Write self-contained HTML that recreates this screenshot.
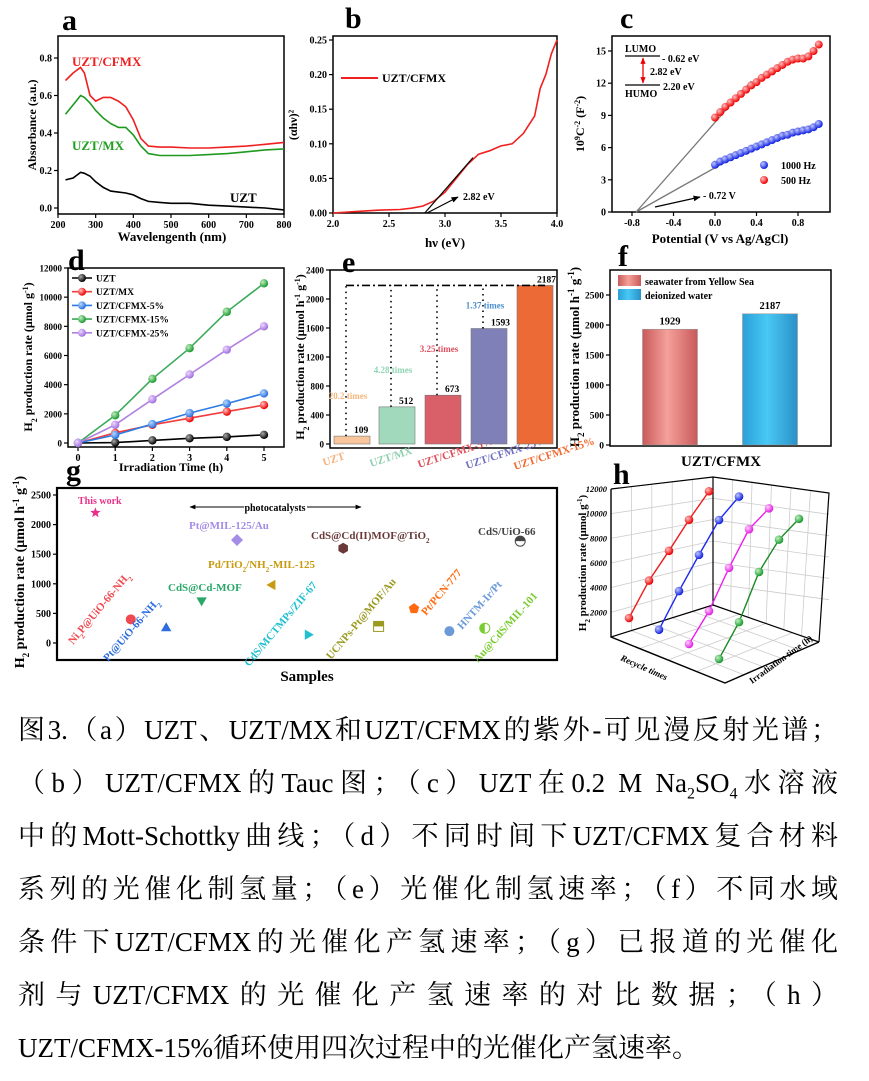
<!DOCTYPE html>
<html><head><meta charset="utf-8">
<style>
html,body{margin:0;padding:0;background:#fff;}
body{width:869px;height:1081px;position:relative;overflow:hidden;}
#fig{position:absolute;left:0;top:0;}
.cap{position:absolute;left:18px;width:820px;font-family:"Liberation Serif","Noto Serif CJK SC",serif;font-size:27px;line-height:30px;color:#000;text-align:justify;text-align-last:justify;white-space:nowrap;}
.cap.last{text-align-last:left;}
svg text{font-family:"Liberation Serif","Noto Serif CJK SC",serif;font-weight:bold;}
</style></head><body>
<svg id="fig" width="869" height="700" viewBox="0 0 869 700" xmlns="http://www.w3.org/2000/svg">
<defs>
<radialGradient id="gk" cx="35%" cy="35%" r="65%"><stop offset="0" stop-color="#aaa"/><stop offset="1" stop-color="#000"/></radialGradient>
<radialGradient id="gr" cx="35%" cy="35%" r="65%"><stop offset="0" stop-color="#ffc0c0"/><stop offset="1" stop-color="#e00"/></radialGradient>
<radialGradient id="gb" cx="35%" cy="35%" r="65%"><stop offset="0" stop-color="#c0c8ff"/><stop offset="1" stop-color="#1020e0"/></radialGradient>
<radialGradient id="gg" cx="35%" cy="35%" r="65%"><stop offset="0" stop-color="#c0f0c0"/><stop offset="1" stop-color="#1a9a30"/></radialGradient>
<radialGradient id="gp" cx="35%" cy="35%" r="65%"><stop offset="0" stop-color="#eed8ff"/><stop offset="1" stop-color="#a070e0"/></radialGradient>
<radialGradient id="gm" cx="35%" cy="35%" r="65%"><stop offset="0" stop-color="#ffd0ff"/><stop offset="1" stop-color="#e020e0"/></radialGradient>
<radialGradient id="gbl" cx="35%" cy="35%" r="65%"><stop offset="0" stop-color="#b8d8ff"/><stop offset="1" stop-color="#2a70e0"/></radialGradient>
<linearGradient id="fpink" x1="0" x2="1"><stop offset="0" stop-color="#c85a5a"/><stop offset="0.45" stop-color="#f5a09a"/><stop offset="1" stop-color="#c85a5a"/></linearGradient>
<linearGradient id="fblue" x1="0" x2="1"><stop offset="0" stop-color="#2aa0d8"/><stop offset="0.45" stop-color="#48c8f4"/><stop offset="1" stop-color="#2a90c8"/></linearGradient>
<marker id="ah" viewBox="0 0 10 10" refX="9" refY="5" markerWidth="6" markerHeight="6" orient="auto-start-reverse"><path d="M0,1 L10,5 L0,9 z" fill="#000"/></marker>
<marker id="ahr" viewBox="0 0 10 10" refX="9" refY="5" markerWidth="5" markerHeight="5" orient="auto-start-reverse"><path d="M0,1 L10,5 L0,9 z" fill="#e00"/></marker>
</defs>

<text x="62" y="30" font-size="30">a</text>
<text x="345" y="28" font-size="30">b</text>
<text x="620" y="28" font-size="30">c</text>
<text x="68" y="270" font-size="30">d</text>
<text x="342" y="272" font-size="30">e</text>
<text x="618" y="266" font-size="30">f</text>
<text x="66" y="480" font-size="30">g</text>
<text x="613" y="484" font-size="30">h</text>

<text x="172" y="241" font-size="13" text-anchor="middle">Wavelengenth (nm)</text>
<text transform="translate(36,125) rotate(-90)" font-size="12" text-anchor="middle">Absorbance (a.u.)</text>
<text x="72" y="66" font-size="13" fill="#f02020">UZT/CFMX</text>
<text x="72" y="150" font-size="13" fill="#20a020">UZT/MX</text>
<text x="230" y="202" font-size="13">UZT</text>
<text x="445" y="247" font-size="13" text-anchor="middle">hν (eV)</text>
<text transform="translate(297,125) rotate(-90)" font-size="12" text-anchor="middle">(αhν)²</text>
<line x1="341" y1="78" x2="378" y2="78" stroke="#f02020" stroke-width="2"/>
<text x="382" y="82" font-size="12">UZT/CFMX</text>
<text x="463" y="200" font-size="10">2.82 eV</text>
<line x1="427" y1="213" x2="458" y2="197" stroke="#000" stroke-width="1.2" marker-end="url(#ah)"/>
<text x="720" y="243" font-size="13" text-anchor="middle">Potential (V vs Ag/AgCl)</text>
<text transform="translate(584,124) rotate(-90)" font-size="12" text-anchor="middle">10<tspan baseline-shift="super" font-size="8">9</tspan>C<tspan baseline-shift="super" font-size="8">-2</tspan> (F<tspan baseline-shift="super" font-size="8">-2</tspan>)</text>
<text x="625" y="52" font-size="10">LUMO</text>
<line x1="625" y1="56" x2="660" y2="56" stroke="#000" stroke-width="1.2"/>
<text x="662" y="62" font-size="10">- 0.62 eV</text>
<line x1="643" y1="58" x2="643" y2="83" stroke="#e00" stroke-width="1.3" marker-start="url(#ahr)" marker-end="url(#ahr)"/>
<text x="650" y="75" font-size="10">2.82 eV</text>
<line x1="625" y1="85" x2="660" y2="85" stroke="#000" stroke-width="1.2"/>
<text x="663" y="90" font-size="10">2.20 eV</text>
<text x="625" y="97" font-size="10">HUMO</text>
<circle cx="764" cy="165" r="4" fill="url(#gb)"/>
<text x="781" y="169" font-size="10">1000 Hz</text>
<circle cx="764" cy="180" r="4" fill="url(#gr)"/>
<text x="781" y="184" font-size="10">500 Hz</text>
<line x1="655" y1="207" x2="700" y2="197" stroke="#000" stroke-width="1.2" marker-end="url(#ah)"/>
<text x="703" y="199" font-size="10">- 0.72 V</text>
<text x="171" y="471" font-size="12" text-anchor="middle">Irradiation Time (h)</text>
<text transform="translate(32,357) rotate(-90)" font-size="12" text-anchor="middle">H<tspan baseline-shift="sub" font-size="8">2</tspan> production rate (μmol g<tspan baseline-shift="super" font-size="8">-1</tspan>)</text>
<text transform="translate(304,357) rotate(-90)" font-size="12" text-anchor="middle">H<tspan baseline-shift="sub" font-size="8">2</tspan> production rate (μmol h<tspan baseline-shift="super" font-size="8">-1</tspan> g<tspan baseline-shift="super" font-size="8">-1</tspan>)</text>
<text transform="translate(579,357) rotate(-90)" font-size="13" text-anchor="middle">H<tspan baseline-shift="sub" font-size="9">2</tspan> production rate (μmol h<tspan baseline-shift="super" font-size="9">-1</tspan> g<tspan baseline-shift="super" font-size="9">-1</tspan>)</text>
<text x="721" y="466" font-size="15" text-anchor="middle">UZT/CFMX</text>
<rect x="618" y="275" width="23" height="11" fill="url(#fpink)"/>
<text x="645" y="285" font-size="10">seawater from Yellow Sea</text>
<rect x="618" y="289" width="23" height="11" fill="url(#fblue)"/>
<text x="645" y="299" font-size="10">deionized water</text>
<text x="307" y="681" font-size="15" text-anchor="middle">Samples</text>
<text transform="translate(24,572) rotate(-90)" font-size="14" text-anchor="middle">H<tspan baseline-shift="sub" font-size="9">2</tspan> production rate (μmol h<tspan baseline-shift="super" font-size="9">-1</tspan> g<tspan baseline-shift="super" font-size="9">-1</tspan>)</text>
<text x="275" y="511" font-size="10" text-anchor="middle">photocatalysts</text>
<line x1="244" y1="507" x2="190" y2="507" stroke="#000" stroke-width="1" marker-end="url(#ah)"/>
<line x1="307" y1="507" x2="361" y2="507" stroke="#000" stroke-width="1" marker-end="url(#ah)"/>
<text transform="translate(586,563) rotate(-90)" font-size="11" text-anchor="middle">H<tspan baseline-shift="sub" font-size="7">2</tspan> production rate (μmol g<tspan baseline-shift="super" font-size="7">-1</tspan>)</text>
<text transform="translate(620,660) rotate(24)" font-size="9" font-style="italic">Recycle times</text>
<text transform="translate(752,684) rotate(-36)" font-size="9">Irradiation time (h)</text>
<g id="plots"></g>
</svg>

<div class="cap" style="top:715px">图3.（a）UZT、UZT/MX和UZT/CFMX的紫外-可见漫反射光谱；</div>
<div class="cap" style="top:768px">（b）UZT/CFMX的Tauc图；（c）UZT在0.2 M Na<sub style="font-size:16px">2</sub>SO<sub style="font-size:16px">4</sub>水溶液</div>
<div class="cap" style="top:821px">中的Mott-Schottky曲线；（d）不同时间下UZT/CFMX复合材料</div>
<div class="cap" style="top:874px">系列的光催化制氢量；（e）光催化制氢速率；（f）不同水域</div>
<div class="cap" style="top:927px">条件下UZT/CFMX的光催化产氢速率；（g）已报道的光催化</div>
<div class="cap" style="top:980px">剂与UZT/CFMX的光催化产氢速率的对比数据；（h）</div>
<div class="cap last" style="top:1033px">UZT/CFMX-15%循环使用四次过程中的光催化产氢速率。</div>

<script>
const aWave = [220,240,260,270,285,300,320,340,360,380,400,420,440,470,500,550,600,650,700,750,800];
const aCFMX = [0.68,0.72,0.75,0.72,0.60,0.57,0.59,0.59,0.57,0.54,0.47,0.37,0.33,0.325,0.325,0.32,0.32,0.325,0.33,0.34,0.35];
const aMX   = [0.50,0.55,0.60,0.59,0.56,0.52,0.48,0.45,0.43,0.43,0.39,0.33,0.29,0.28,0.28,0.28,0.285,0.29,0.30,0.31,0.315];
const aUZT  = [0.15,0.16,0.19,0.185,0.17,0.14,0.11,0.09,0.085,0.08,0.07,0.05,0.035,0.03,0.025,0.025,0.015,0.01,0.005,0.0,-0.01];
const aXTicks = [200,300,400,500,600,700,800];
const aYTicks = [0,0.2,0.4,0.6,0.8];
const aYLabels = ['0.0','0.2','0.4','0.6','0.8'];
const bHv = [2.0,2.2,2.4,2.6,2.7,2.8,2.9,3.0,3.1,3.2,3.3,3.4,3.5,3.6,3.7,3.8,3.85,3.9,3.95,4.0];
const bVal = [0,0.002,0.004,0.005,0.007,0.01,0.017,0.03,0.05,0.07,0.085,0.09,0.097,0.10,0.115,0.14,0.18,0.20,0.23,0.25];
const bFit = [[2.82,0],[3.25,0.08]];
const bXTicks = [2.0,2.5,3.0,3.5,4.0];
const bXLabels = ['2.0','2.5','3.0','3.5','4.0'];
const bYTicks = [0,0.05,0.10,0.15,0.20,0.25];
const bYLabels = ['0.00','0.05','0.10','0.15','0.20','0.25'];
const cPot = [0,0.05,0.1,0.15,0.2,0.25,0.3,0.35,0.4,0.45,0.5,0.55,0.6,0.65,0.7,0.75,0.8,0.85,0.9,0.95,1.0];
const c500 = [8.8,9.3,9.8,10.2,10.6,11.0,11.4,11.8,12.1,12.5,12.8,13.1,13.4,13.7,14.0,14.2,14.3,14.3,14.5,15.0,15.6];
const c1000 = [4.4,4.7,4.9,5.1,5.3,5.5,5.7,5.9,6.1,6.3,6.5,6.7,6.9,7.1,7.2,7.4,7.5,7.6,7.7,7.9,8.2];
const cFit500 = [[-0.76,0],[0.35,12.2]];
const cFit1000 = [[-0.76,0],[0.4,6.3]];
const cXTicks = [-0.8,-0.4,0,0.4,0.8];
const cXLabels = ['-0.8','-0.4','0.0','0.4','0.8'];
const cYTicks = [0,3,6,9,12,15];
const dTime = [0,1,2,3,4,5];
const dUZT = [0,30,180,320,420,560];
const dMX = [0,700,1250,1700,2150,2600];
const d5 = [0,550,1300,2050,2700,3400];
const d15 = [0,1900,4400,6500,9000,10950];
const d25 = [0,1250,3000,4700,6400,8000];
const dNames = ['UZT','UZT/MX','UZT/CFMX-5%','UZT/CFMX-15%','UZT/CFMX-25%'];
const dYTicks = [0,2000,4000,6000,8000,10000,12000];
const eCats = ['UZT','UZT/MX','UZT/CFMX-5%','UZT/CFMX-25%','UZT/CFMX-15%'];
const eVals = [109,512,673,1593,2187];
const eTimes = ['20.2 times','4.28 times','3.25 times','1.37 times'];
const eYTicks = [0,400,800,1200,1600,2000,2400];
const fCats = ['seawater from Yellow Sea','deionized water'];
const fVals = [1929,2187];
const fYTicks = [0,500,1000,1500,2000,2500];
const gNames = ['This work','Ni2P@UiO-66-NH2','Pt@UiO-66-NH2','CdS@Cd-MOF','Pt@MIL-125/Au','Pd/TiO2/NH2-MIL-125','CdS/MCTMPs/ZIF-67','CdS@Cd(II)MOF@TiO2','UCNPs-Pt@MOF/Au','Pt/PCN-777','HNTM-Ir/Pt','Au@CdS/MIL-101','CdS/UiO-66'];
const gVals = [2200,400,250,720,1740,980,140,1600,280,580,200,250,1720];
const gYTicks = [0,500,1000,1500,2000,2500];
const hTime = [1,2,3,4,5];
const hCycle1 = [2000,4700,6800,9000,11000];
const hCycle2 = [2100,4900,7500,10000,11600];
const hCycle3 = [2000,4350,7500,10300,11700];
const hCycle4 = [1850,4500,8200,10500,11900];
const hZTicks = [2000,4000,6000,8000,10000,12000];

const NS='http://www.w3.org/2000/svg';
const root=document.getElementById('plots');
function mk(tag,attrs,parent){const e=document.createElementNS(NS,tag);for(const k in attrs)e.setAttribute(k,attrs[k]);(parent||root).appendChild(e);return e;}
function lin(d0,d1,p0,p1){return v=>p0+(v-d0)*(p1-p0)/(d1-d0);}
function frame(x0,y0,x1,y1,name){const r=mk('rect',{x:x0,y:y0,width:x1-x0,height:y1-y0,fill:'none',stroke:'#000','stroke-width':1.5});

}
function yAxis(ticks,labels,sy,x,name,fs){ticks.forEach((t,i)=>{const l=mk('line',{x1:x-4,x2:x,y1:sy(t),y2:sy(t),stroke:'#000','stroke-width':1.2});


const tx=mk('text',{x:x-6,y:sy(t)+3.5,'font-size':fs||10,'text-anchor':'end'});tx.textContent=labels?labels[i]:String(t);

});}
function xAxis(ticks,labels,sx,y,name,fs){ticks.forEach((t,i)=>{const l=mk('line',{x1:sx(t),x2:sx(t),y1:y,y2:y+4,stroke:'#000','stroke-width':1.2});


const tx=mk('text',{x:sx(t),y:y+14,'font-size':fs||10,'text-anchor':'middle'});tx.textContent=labels?labels[i]:String(t);

});}
function pathOf(xs,ys,sx,sy){return xs.map((x,i)=>(i?'L':'M')+sx(x).toFixed(1)+','+sy(ys[i]).toFixed(1)).join(' ');}
function line(xs,ys,sx,sy,color,w,name){const p=mk('path',{d:pathOf(xs,ys,sx,sy),fill:'none',stroke:color,'stroke-width':w});

return p;}
function dot(x,y,r,fill,name){const c=mk('circle',{cx:x,cy:y,r:r,fill:fill});

return c;}

{const sx=lin(200,800,58,284), sy=lin(0,0.8,208,58);
frame(58,36,284,214,'a-plot-frame');
xAxis(aXTicks,null,sx,214,'a-x-axis');yAxis(aYTicks,aYLabels,sy,58,'a-y-axis');
line(aWave,aCFMX,sx,sy,'#f02020',1.6,'a-series-uzt-cfmx');
line(aWave,aMX,sx,sy,'#1f9a1f',1.6,'a-series-uzt-mx');
line(aWave,aUZT,sx,sy,'#000',1.6,'a-series-uzt');}

{const sx=lin(2,4,333,557), sy=lin(0,0.25,213,40);
frame(333,36,557,213,'b-plot-frame');
xAxis(bXTicks,bXLabels,sx,213,'b-x-axis');yAxis(bYTicks,bYLabels,sy,333,'b-y-axis');
line(bHv,bVal,sx,sy,'#f02020',1.6,'b-series-uzt-cfmx');
line(bFit.map(p=>p[0]),bFit.map(p=>p[1]),sx,sy,'#000',1.2,'b-tauc-fit-line');}

{const sx=lin(-0.8,0.8,632,798), sy=lin(0,15,212,51);
frame(612,36,830,212,'c-plot-frame');
xAxis(cXTicks,cXLabels,sx,212,'c-x-axis');yAxis(cYTicks,null,sy,612,'c-y-axis');
line(cFit500.map(p=>p[0]),cFit500.map(p=>p[1]),sx,sy,'#777',1.3,'c-fit-500hz');
line(cFit1000.map(p=>p[0]),cFit1000.map(p=>p[1]),sx,sy,'#777',1.3,'c-fit-1000hz');
cPot.forEach((x,i)=>{dot(sx(x),sy(c500[i]),4,'url(#gr)','c-point-500hz');
dot(sx(x),sy(c1000[i]),4,'url(#gb)','c-point-1000hz');});}

{const sx=lin(0,5,78,264), sy=lin(0,12000,443,268);
frame(68,268,284,447,'d-plot-frame');
xAxis(dTime,null,sx,447,'d-x-axis');yAxis(dYTicks,null,sy,68,'d-y-axis',9);
const series=[dUZT,dMX,d5,d15,d25], cols=['#000','#f03c3c','#2a7be4','#3caa5a','#b07fe0'], grads=['url(#gk)','url(#gr)','url(#gbl)','url(#gg)','url(#gp)'];
series.forEach((s,k)=>{line(dTime,s,sx,sy,cols[k],1.6,'d-series-'+k);
dTime.forEach((t,i)=>dot(sx(t),sy(s[i]),4.2,grads[k],'d-point'));
const ly=278+k*13.7;
const ll=mk('line',{x1:72,x2:92,y1:ly,y2:ly,stroke:cols[k],'stroke-width':1.6});


dot(82,ly,4,grads[k],'d-legend-marker');
const tx=mk('text',{x:96,y:ly+3.5,'font-size':9.5});tx.textContent=dNames[k];

});}

{const sy=lin(0,2400,444,270), cx=[352,397,443,489,535], bw=36;
frame(330,270,557,448,'e-plot-frame');yAxis(eYTicks,null,sy,330,'e-y-axis',9);
const fills=['#f8c59c','#a0d9bb','#d95f68','#8080b9','#ec6a36'];
const lab=['#f5b27a','#8fd0ae','#e0505a','#7070c0','#f06a30'];
const tcol=['#f7b57c','#8fd6b4','#e05060','#4a90d0'];
const toff=[37,34,43,20];
eVals.forEach((v,i)=>{const r=mk('rect',{x:cx[i]-bw/2,y:sy(v),width:bw,height:sy(0)-sy(v),fill:fills[i],stroke:'#777','stroke-width':0.6});


const t=mk('text',{x:cx[i]+2,y:sy(v)-3,'font-size':9.5});t.textContent=String(v);


const c=mk('text',{transform:`translate(${cx[i]-28+i*2},${466+i*1}) rotate(-18)`,'font-size':11,fill:lab[i]});c.textContent=eCats[i];


if(i<4){const d=mk('line',{x1:cx[i]-6,x2:cx[i]-6,y1:sy(v),y2:sy(eVals[4]),stroke:'#000','stroke-width':1.6,'stroke-dasharray':'1.5,4'});


const tt=mk('text',{x:cx[i]-4,y:sy(v)-toff[i],'font-size':9,fill:tcol[i],'text-anchor':'middle'});tt.textContent=eTimes[i];

}});
const h=mk('line',{x1:cx[0]-6,x2:cx[4]+10,y1:sy(eVals[4]),y2:sy(eVals[4]),stroke:'#000','stroke-width':1.6,'stroke-dasharray':'8,3,2,3'});

}

{const sy=lin(0,2500,445,295), cx=[670,770], bw=55;
frame(610,270,831,446,'f-plot-frame');yAxis(fYTicks,null,sy,610,'f-y-axis',9.5);
const fills=['url(#fpink)','url(#fblue)'];
fVals.forEach((v,i)=>{const r=mk('rect',{x:cx[i]-bw/2,y:sy(v),width:bw,height:sy(0)-sy(v),fill:fills[i],stroke:'#999','stroke-width':0.6});


const t=mk('text',{x:cx[i],y:sy(v)-5,'font-size':10.5,'text-anchor':'middle'});t.textContent=String(v);

});}

{const sy=lin(0,2500,643,495), sx=i=>60+35.4*(i+1);
const fr=mk('rect',{x:57,y:488,width:500,height:172,fill:'none',stroke:'#000','stroke-width':2.2});


yAxis(gYTicks,null,sy,57,'g-y-axis',10);
const cols=['#e8308a','#f04a50','#2d6de0','#2aa86a','#a48ce8','#c89a10','#20c0d0','#6a3a3a','#9a9a20','#ff6a10','#6a9ad8','#7acc30','#444'];
const shapes=['star','circle','tri-up','tri-down','diamond','tri-left','tri-right','hex','square','pent','circle','halfc','halfc'];
function poly(n,r,rot){let s='';for(let k=0;k<n;k++){const a=rot+k*2*Math.PI/n;s+=(r*Math.cos(a)).toFixed(2)+','+(r*Math.sin(a)).toFixed(2)+' ';}return s;}
gVals.forEach((v,i)=>{const x=sx(i), y=sy(v), g=mk('g',{transform:`translate(${x},${y})`});


const sh=shapes[i], c=cols[i]; let pts=null;
if(sh==='circle'){mk('circle',{r:5,fill:c},g);}
else if(sh==='star'){let s='';for(let k=0;k<10;k++){const a=-Math.PI/2+k*Math.PI/5,r=k%2?2.3:5.5;s+=(r*Math.cos(a)).toFixed(2)+','+(r*Math.sin(a)).toFixed(2)+' ';}pts=s;}
else if(sh==='tri-up')pts=poly(3,6,-Math.PI/2);
else if(sh==='tri-down')pts=poly(3,6,Math.PI/2);
else if(sh==='tri-left')pts=poly(3,6,Math.PI);
else if(sh==='tri-right')pts=poly(3,6,0);
else if(sh==='diamond')pts=poly(4,6,0);
else if(sh==='hex')pts=poly(6,5.5,Math.PI/6);
else if(sh==='pent')pts=poly(5,5.5,-Math.PI/2);
else if(sh==='square'){mk('rect',{x:-5,y:-5,width:10,height:10,fill:'#fff',stroke:c,'stroke-width':1},g);mk('rect',{x:-5,y:-5,width:10,height:5,fill:c},g);}
else if(sh==='halfc'){mk('circle',{r:5,fill:'#fff',stroke:c,'stroke-width':1},g);mk('path',{d:i===12?'M-5,0 A5,5 0 0 1 5,0 Z':'M0,-5 A5,5 0 0 0 0,5 Z',fill:c},g);}
if(pts)mk('polygon',{points:pts,fill:c},g);});
const lp=[[78,504,0,10],[73,645,-50,11],[108,662,-49,11],[168,591,0,11],[189,529,0,11],[208,568,0,11],[249,667,-50,11],[311,539,0,11],[331,660,-50,11],[426,616,-50,11],[462,630,-48,11],[478,663,-48,11],[478,535,0,11]];
gNames.forEach((n,i)=>{const p=lp[i];const t=mk('text',{transform:`translate(${p[0]},${p[1]}) rotate(${p[2]})`,'font-size':p[3],fill:cols[i],'font-weight':i===0?'bold':'normal'});


const parts=n.split(/(2)/);parts.forEach(s=>{const ts=mk('tspan',{},t);if(s==='2'&&/(Ni|TiO|NH)$/.test(t.textContent)){ts.setAttribute('baseline-shift','sub');ts.setAttribute('font-size','7');}ts.textContent=s;});});}

{const X0=609,Y0=646.5, P=(c,t,z)=>[X0+c*30+t*20, Y0+c*13-t*3-z*0.01275];
const S='#000', G='#ccc';
function ln(pts,stroke,w,name){const p=mk('polyline',{points:pts.map(q=>q.join(',')).join(' '),fill:'none',stroke:stroke,'stroke-width':w});

}
for(let k=1;k<5;k++){ln([[611+k*20.4,489-k*2.4],[611+k*20.4,637-k*6.4]],G,0.8,'h-grid-left-wall');}
for(let k=1;k<6;k++){ln([[713+k*19.5,477+k*2.7],[713+k*17.7,605+k*6.2]],G,0.8,'h-grid-right-wall');}
hZTicks.forEach((z,i)=>{const yl=637-(z/12000)*148, yb=605-(z/12000)*128;ln([[611,yl],[713,yb],[829,yb+16]],G,0.8,'h-grid-z');
const t=mk('text',{x:607,y:yl+3,'font-size':8.5,'text-anchor':'end','font-style':'italic'});t.textContent=String(z);

});
for(let k=1;k<4;k++){ln([[611+k*28.5,637+k*11.5],[713+k*26.5,605+k*9.2]],G,0.8,'h-grid-floor');}
for(let k=1;k<5;k++){ln([[611+k*20.4,637-k*6.4],[725+k*18.8,683-k*8.2]],G,0.8,'h-grid-floor');}
ln([[611,489],[611,637],[725,683],[819,642]],S,1.4,'h-axes-front');
ln([[611,489],[713,477],[829,493],[819,642]],S,1.2,'h-box-top');
ln([[713,477],[713,605],[611,637]],S,1.2,'h-box-back');
ln([[713,605],[819,642]],S,1.2,'h-box-back-floor');
const cyc=[hCycle1,hCycle2,hCycle3,hCycle4], cols=['#ee1c1c','#1c2aee','#ee1cee','#1a8a22'], gr=['url(#gr)','url(#gb)','url(#gm)','url(#gg)'];
cyc.forEach((s,c)=>{ln(hTime.map((t,i)=>P(c,t,s[i])),cols[c],1.4,'h-series-cycle-'+(c+1));
hTime.forEach((t,i)=>{const q=P(c,t,s[i]);dot(q[0],q[1],4.3,gr[c],'h-point');});});}
</script>
</body></html>
